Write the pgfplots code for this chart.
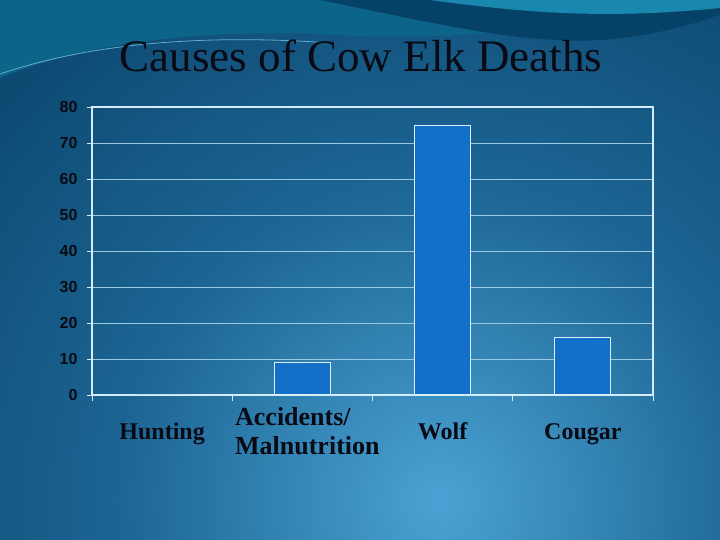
\documentclass[border=0pt]{standalone}
\usepackage{pgfplots}
\pgfplotsset{compat=1.18}
\usepackage{fontspec}
\setmainfont{Liberation Serif}
\newfontfamily\tickfont{Liberation Sans}

\definecolor{bgdark}{HTML}{043A5E}
\definecolor{bgmid}{HTML}{1C6594}
\definecolor{bglight}{HTML}{4AA3D4}
\definecolor{wavecol}{HTML}{0D6489}
\definecolor{wavelight}{HTML}{1A88AE}
\definecolor{barfill}{HTML}{1270C9}
\definecolor{baredge}{HTML}{DCEEF8}
\definecolor{gridc}{HTML}{9CC8E0}
\definecolor{framec}{HTML}{D4ECF8}
\definecolor{labelc}{HTML}{0A0A14}

\pgfdeclareradialshading{bgshade}{\pgfpoint{0bp}{0bp}}{%
  color(0bp)=(bglight); color(8bp)=(bgmid); color(19bp)=(bgdark); color(50bp)=(bgdark)}

\begin{document}
\begin{tikzpicture}
\begin{scope}[x=1pt,y=1pt]
  \path[use as bounding box] (0,0) rectangle (720,540);
  \clip (0,0) rectangle (720,540);
  % slide background
  \shade[shading=bgshade] (-560,-960) rectangle (1440,1040);
  \fill[wavecol] (0,540) -- (0,462) .. controls (90,500) and (220,512) .. (340,505)
        .. controls (460,498) and (600,515) .. (720,538) -- (720,540) -- cycle;
  \fill[bgdark!80!wavecol] (320,540) .. controls (420,520) and (520,495) .. (600,500)
        .. controls (650,503) and (690,515) .. (720,525) -- (720,540) -- cycle;
  \fill[wavelight] (430,540) .. controls (520,528) and (600,520) .. (720,532) -- (720,540) -- cycle;
  \draw[wavelight!70!white, line width=0.8] (0,466) .. controls (100,500) and (220,505) .. (330,497);
\end{scope}

\node[font=\fontsize{45}{50}\selectfont, text=labelc, anchor=base] at (361pt,468pt) {Causes of Cow Elk Deaths};

\begin{axis}[
  at={(92pt,145pt)}, anchor=south west,
  scale only axis, width=561pt, height=288pt,
  xmin=-0.5, xmax=3.5, ymin=0, ymax=80,
  axis line style={draw=framec, line width=1.5pt},
  ytick={0,10,...,80},
  ymajorgrids, major grid style={draw=gridc, line width=0.7pt},
  tick align=outside, major tick length=5pt,
  ytick pos=left, xtick pos=bottom,
  y tick style={draw=framec, line width=0.8pt},
  /pgf/number format/assume math mode=true,
  yticklabel style={font=\tickfont\bfseries\fontsize{16}{16}\selectfont, text=labelc, xshift=-6pt},
  xtick={0,1,2,3},
  x tick style={draw=none},
  xticklabels={Hunting, {\hspace*{10pt}\raisebox{4pt}{\fontsize{26}{29}\selectfont\begin{tabular}[c]{@{}l@{}}Accidents/\\Malnutrition\end{tabular}}}, Wolf\vphantom{g}, Cougar},
  xticklabel style={font=\bfseries\fontsize{24}{28}\selectfont, text=labelc, anchor=center, yshift=-34pt},
  extra x ticks={-0.5,0.5,1.5,2.5,3.5},
  extra x tick labels={},
  extra x tick style={major tick length=6pt, x tick style={draw=framec, line width=0.8pt}, grid=none},
  ybar, bar width=56pt,
]
\addplot[fill=barfill, draw=baredge, line width=1pt] coordinates {
  (0,0) (1,9) (2,75) (3,16)
};
\end{axis}
\end{tikzpicture}
\end{document}
